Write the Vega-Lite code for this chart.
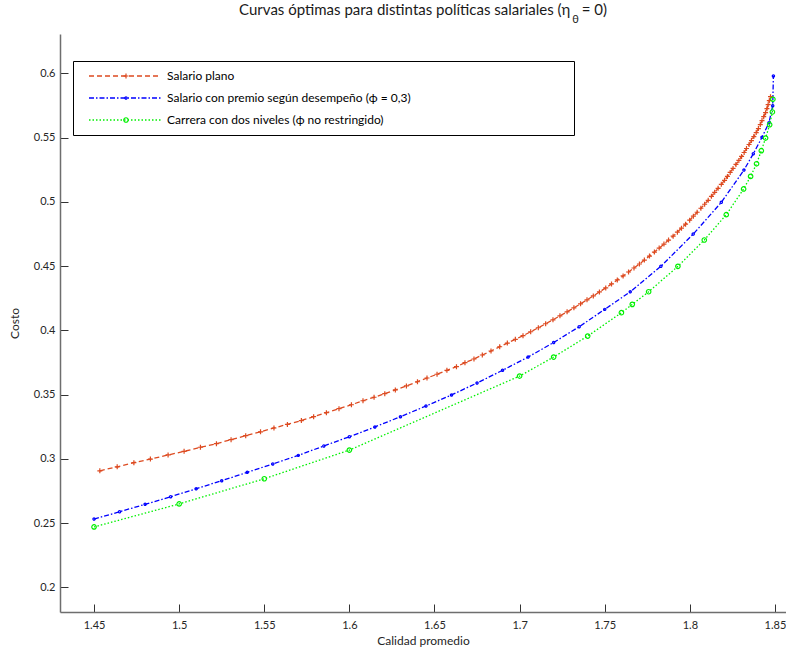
{
  "$schema": "https://vega.github.io/schema/vega-lite/v6.json",
  "width": 726,
  "height": 578,
  "autosize": {"type": "none"},
  "padding": {"left": 60, "top": 34, "right": 0, "bottom": 39},
  "background": "white",
  "title": {
    "text": "Curvas óptimas para distintas políticas salariales (η\u2002 = 0)",
    "subtitle": "\u2800\u2003\u2003\u2003\u2003\u2003\u2003\u2003\u2003\u2003\u2003\u2003\u2003\u2003\u2003\u2003\u2003\u2003\u2003\u2003\u2003\u2003\u2003\u2003\u2003\u2003\u2003\u2003\u2003\u2003\u2003\u2003\u2003\u2003\u2003\u2003\u2003θ",
    "frame": "group",
    "anchor": "middle",
    "font": "Lato",
    "fontSize": 15,
    "fontWeight": "normal",
    "color": "#1a1a1a",
    "subtitleFont": "Lato",
    "subtitleFontSize": 11,
    "subtitleColor": "#1a1a1a",
    "subtitlePadding": -4,
    "offset": 9
  },
  "config": {
    "view": {"stroke": null},
    "axis": {
      "labelFont": "Lato",
      "labelFontSize": 11,
      "labelColor": "#262626",
      "titleFont": "Lato",
      "titleFontSize": 12,
      "titleFontWeight": "normal",
      "titleColor": "#262626",
      "grid": false,
      "domainColor": "#6e6e6e",
      "domainWidth": 1.5,
      "tickColor": "#333333",
      "tickWidth": 1,
      "tickSize": -8,
      "labelFlush": false,
      "labelOverlap": false
    }
  },
  "data": {
    "values": [
      {"serie": "Salario plano", "x": 1.4534, "y": 0.2907},
      {"serie": "Salario plano", "x": 1.4636, "y": 0.2938},
      {"serie": "Salario plano", "x": 1.4734, "y": 0.2970},
      {"serie": "Salario plano", "x": 1.4831, "y": 0.2998},
      {"serie": "Salario plano", "x": 1.4935, "y": 0.3030},
      {"serie": "Salario plano", "x": 1.5029, "y": 0.3058},
      {"serie": "Salario plano", "x": 1.5125, "y": 0.3090},
      {"serie": "Salario plano", "x": 1.5219, "y": 0.3118},
      {"serie": "Salario plano", "x": 1.5305, "y": 0.3149},
      {"serie": "Salario plano", "x": 1.5391, "y": 0.3180},
      {"serie": "Salario plano", "x": 1.5478, "y": 0.3210},
      {"serie": "Salario plano", "x": 1.5557, "y": 0.3240},
      {"serie": "Salario plano", "x": 1.5636, "y": 0.3268},
      {"serie": "Salario plano", "x": 1.5718, "y": 0.3298},
      {"serie": "Salario plano", "x": 1.5790, "y": 0.3328},
      {"serie": "Salario plano", "x": 1.5865, "y": 0.3359},
      {"serie": "Salario plano", "x": 1.5939, "y": 0.3390},
      {"serie": "Salario plano", "x": 1.6012, "y": 0.3421},
      {"serie": "Salario plano", "x": 1.6080, "y": 0.3452},
      {"serie": "Salario plano", "x": 1.6145, "y": 0.3479},
      {"serie": "Salario plano", "x": 1.6208, "y": 0.3507},
      {"serie": "Salario plano", "x": 1.6270, "y": 0.3536},
      {"serie": "Salario plano", "x": 1.6335, "y": 0.3567},
      {"serie": "Salario plano", "x": 1.6400, "y": 0.3600},
      {"serie": "Salario plano", "x": 1.6456, "y": 0.3629},
      {"serie": "Salario plano", "x": 1.6515, "y": 0.3658},
      {"serie": "Salario plano", "x": 1.6573, "y": 0.3689},
      {"serie": "Salario plano", "x": 1.6629, "y": 0.3717},
      {"serie": "Salario plano", "x": 1.6679, "y": 0.3748},
      {"serie": "Salario plano", "x": 1.6732, "y": 0.3777},
      {"serie": "Salario plano", "x": 1.6781, "y": 0.3808},
      {"serie": "Salario plano", "x": 1.6832, "y": 0.3839},
      {"serie": "Salario plano", "x": 1.6883, "y": 0.3872},
      {"serie": "Salario plano", "x": 1.6928, "y": 0.3901},
      {"serie": "Salario plano", "x": 1.6975, "y": 0.3930},
      {"serie": "Salario plano", "x": 1.7020, "y": 0.3958},
      {"serie": "Salario plano", "x": 1.7065, "y": 0.3989},
      {"serie": "Salario plano", "x": 1.7110, "y": 0.4020},
      {"serie": "Salario plano", "x": 1.7153, "y": 0.4051},
      {"serie": "Salario plano", "x": 1.7196, "y": 0.4082},
      {"serie": "Salario plano", "x": 1.7237, "y": 0.4113},
      {"serie": "Salario plano", "x": 1.7279, "y": 0.4144},
      {"serie": "Salario plano", "x": 1.7319, "y": 0.4175},
      {"serie": "Salario plano", "x": 1.7358, "y": 0.4206},
      {"serie": "Salario plano", "x": 1.7396, "y": 0.4237},
      {"serie": "Salario plano", "x": 1.7433, "y": 0.4268},
      {"serie": "Salario plano", "x": 1.7469, "y": 0.4299},
      {"serie": "Salario plano", "x": 1.7506, "y": 0.4330},
      {"serie": "Salario plano", "x": 1.7540, "y": 0.4361},
      {"serie": "Salario plano", "x": 1.7574, "y": 0.4392},
      {"serie": "Salario plano", "x": 1.7608, "y": 0.4423},
      {"serie": "Salario plano", "x": 1.7640, "y": 0.4454},
      {"serie": "Salario plano", "x": 1.7672, "y": 0.4485},
      {"serie": "Salario plano", "x": 1.7704, "y": 0.4516},
      {"serie": "Salario plano", "x": 1.7733, "y": 0.4547},
      {"serie": "Salario plano", "x": 1.7763, "y": 0.4578},
      {"serie": "Salario plano", "x": 1.7792, "y": 0.4609},
      {"serie": "Salario plano", "x": 1.7820, "y": 0.4640},
      {"serie": "Salario plano", "x": 1.7848, "y": 0.4671},
      {"serie": "Salario plano", "x": 1.7875, "y": 0.4702},
      {"serie": "Salario plano", "x": 1.7902, "y": 0.4733},
      {"serie": "Salario plano", "x": 1.7927, "y": 0.4764},
      {"serie": "Salario plano", "x": 1.7951, "y": 0.4795},
      {"serie": "Salario plano", "x": 1.7975, "y": 0.4826},
      {"serie": "Salario plano", "x": 1.7999, "y": 0.4857},
      {"serie": "Salario plano", "x": 1.8021, "y": 0.4888},
      {"serie": "Salario plano", "x": 1.8043, "y": 0.4919},
      {"serie": "Salario plano", "x": 1.8065, "y": 0.4950},
      {"serie": "Salario plano", "x": 1.8087, "y": 0.4981},
      {"serie": "Salario plano", "x": 1.8108, "y": 0.5012},
      {"serie": "Salario plano", "x": 1.8127, "y": 0.5043},
      {"serie": "Salario plano", "x": 1.8146, "y": 0.5074},
      {"serie": "Salario plano", "x": 1.8166, "y": 0.5105},
      {"serie": "Salario plano", "x": 1.8185, "y": 0.5136},
      {"serie": "Salario plano", "x": 1.8204, "y": 0.5167},
      {"serie": "Salario plano", "x": 1.8221, "y": 0.5198},
      {"serie": "Salario plano", "x": 1.8237, "y": 0.5229},
      {"serie": "Salario plano", "x": 1.8254, "y": 0.5260},
      {"serie": "Salario plano", "x": 1.8271, "y": 0.5291},
      {"serie": "Salario plano", "x": 1.8288, "y": 0.5322},
      {"serie": "Salario plano", "x": 1.8304, "y": 0.5353},
      {"serie": "Salario plano", "x": 1.8319, "y": 0.5384},
      {"serie": "Salario plano", "x": 1.8333, "y": 0.5415},
      {"serie": "Salario plano", "x": 1.8348, "y": 0.5446},
      {"serie": "Salario plano", "x": 1.8362, "y": 0.5477},
      {"serie": "Salario plano", "x": 1.8376, "y": 0.5508},
      {"serie": "Salario plano", "x": 1.8390, "y": 0.5539},
      {"serie": "Salario plano", "x": 1.8403, "y": 0.5570},
      {"serie": "Salario plano", "x": 1.8414, "y": 0.5601},
      {"serie": "Salario plano", "x": 1.8424, "y": 0.5632},
      {"serie": "Salario plano", "x": 1.8434, "y": 0.5663},
      {"serie": "Salario plano", "x": 1.8445, "y": 0.5694},
      {"serie": "Salario plano", "x": 1.8453, "y": 0.5725},
      {"serie": "Salario plano", "x": 1.8460, "y": 0.5756},
      {"serie": "Salario plano", "x": 1.8467, "y": 0.5787},
      {"serie": "Salario plano", "x": 1.8474, "y": 0.5818},
      {"serie": "Salario con premio según desempeño (ϕ = 0,3)", "x": 1.450, "y": 0.2531},
      {"serie": "Salario con premio según desempeño (ϕ = 0,3)", "x": 1.465, "y": 0.2588},
      {"serie": "Salario con premio según desempeño (ϕ = 0,3)", "x": 1.480, "y": 0.2646},
      {"serie": "Salario con premio según desempeño (ϕ = 0,3)", "x": 1.495, "y": 0.2705},
      {"serie": "Salario con premio según desempeño (ϕ = 0,3)", "x": 1.510, "y": 0.2767},
      {"serie": "Salario con premio según desempeño (ϕ = 0,3)", "x": 1.525, "y": 0.2830},
      {"serie": "Salario con premio según desempeño (ϕ = 0,3)", "x": 1.540, "y": 0.2895},
      {"serie": "Salario con premio según desempeño (ϕ = 0,3)", "x": 1.555, "y": 0.2960},
      {"serie": "Salario con premio según desempeño (ϕ = 0,3)", "x": 1.570, "y": 0.3027},
      {"serie": "Salario con premio según desempeño (ϕ = 0,3)", "x": 1.585, "y": 0.3100},
      {"serie": "Salario con premio según desempeño (ϕ = 0,3)", "x": 1.600, "y": 0.3172},
      {"serie": "Salario con premio según desempeño (ϕ = 0,3)", "x": 1.615, "y": 0.3248},
      {"serie": "Salario con premio según desempeño (ϕ = 0,3)", "x": 1.630, "y": 0.3328},
      {"serie": "Salario con premio según desempeño (ϕ = 0,3)", "x": 1.645, "y": 0.3411},
      {"serie": "Salario con premio según desempeño (ϕ = 0,3)", "x": 1.660, "y": 0.3497},
      {"serie": "Salario con premio según desempeño (ϕ = 0,3)", "x": 1.675, "y": 0.3590},
      {"serie": "Salario con premio según desempeño (ϕ = 0,3)", "x": 1.690, "y": 0.3689},
      {"serie": "Salario con premio según desempeño (ϕ = 0,3)", "x": 1.705, "y": 0.3792},
      {"serie": "Salario con premio según desempeño (ϕ = 0,3)", "x": 1.720, "y": 0.3905},
      {"serie": "Salario con premio según desempeño (ϕ = 0,3)", "x": 1.735, "y": 0.4028},
      {"serie": "Salario con premio según desempeño (ϕ = 0,3)", "x": 1.750, "y": 0.4163},
      {"serie": "Salario con premio según desempeño (ϕ = 0,3)", "x": 1.765, "y": 0.4300},
      {"serie": "Salario con premio según desempeño (ϕ = 0,3)", "x": 1.783, "y": 0.4498},
      {"serie": "Salario con premio según desempeño (ϕ = 0,3)", "x": 1.802, "y": 0.4749},
      {"serie": "Salario con premio según desempeño (ϕ = 0,3)", "x": 1.8185, "y": 0.4996},
      {"serie": "Salario con premio según desempeño (ϕ = 0,3)", "x": 1.8318, "y": 0.5247},
      {"serie": "Salario con premio según desempeño (ϕ = 0,3)", "x": 1.8373, "y": 0.5374},
      {"serie": "Salario con premio según desempeño (ϕ = 0,3)", "x": 1.8424, "y": 0.5502},
      {"serie": "Salario con premio según desempeño (ϕ = 0,3)", "x": 1.8465, "y": 0.5616},
      {"serie": "Salario con premio según desempeño (ϕ = 0,3)", "x": 1.8487, "y": 0.5748},
      {"serie": "Salario con premio según desempeño (ϕ = 0,3)", "x": 1.8491, "y": 0.5979},
      {"serie": "Carrera con dos niveles (ϕ no restringido)", "x": 1.450, "y": 0.2470},
      {"serie": "Carrera con dos niveles (ϕ no restringido)", "x": 1.500, "y": 0.2649},
      {"serie": "Carrera con dos niveles (ϕ no restringido)", "x": 1.550, "y": 0.2845},
      {"serie": "Carrera con dos niveles (ϕ no restringido)", "x": 1.600, "y": 0.3068},
      {"serie": "Carrera con dos niveles (ϕ no restringido)", "x": 1.700, "y": 0.3644},
      {"serie": "Carrera con dos niveles (ϕ no restringido)", "x": 1.720, "y": 0.3792},
      {"serie": "Carrera con dos niveles (ϕ no restringido)", "x": 1.740, "y": 0.3955},
      {"serie": "Carrera con dos niveles (ϕ no restringido)", "x": 1.7598, "y": 0.4137},
      {"serie": "Carrera con dos niveles (ϕ no restringido)", "x": 1.7662, "y": 0.4202},
      {"serie": "Carrera con dos niveles (ϕ no restringido)", "x": 1.7758, "y": 0.4300},
      {"serie": "Carrera con dos niveles (ϕ no restringido)", "x": 1.7930, "y": 0.4498},
      {"serie": "Carrera con dos niveles (ϕ no restringido)", "x": 1.8085, "y": 0.4703},
      {"serie": "Carrera con dos niveles (ϕ no restringido)", "x": 1.8214, "y": 0.4900},
      {"serie": "Carrera con dos niveles (ϕ no restringido)", "x": 1.8316, "y": 0.5100},
      {"serie": "Carrera con dos niveles (ϕ no restringido)", "x": 1.8357, "y": 0.5198},
      {"serie": "Carrera con dos niveles (ϕ no restringido)", "x": 1.8392, "y": 0.5296},
      {"serie": "Carrera con dos niveles (ϕ no restringido)", "x": 1.8420, "y": 0.5398},
      {"serie": "Carrera con dos niveles (ϕ no restringido)", "x": 1.8445, "y": 0.5496},
      {"serie": "Carrera con dos niveles (ϕ no restringido)", "x": 1.8469, "y": 0.5600},
      {"serie": "Carrera con dos niveles (ϕ no restringido)", "x": 1.8485, "y": 0.5699},
      {"serie": "Carrera con dos niveles (ϕ no restringido)", "x": 1.8488, "y": 0.5798}
    ]
  },
  "encoding": {
    "x": {
      "field": "x",
      "type": "quantitative",
      "scale": {"domain": [1.43, 1.8565], "nice": false, "zero": false},
      "axis": {
        "values": [1.45, 1.5, 1.55, 1.6, 1.65, 1.7, 1.75, 1.8, 1.85],
        "format": "~g",
        "title": "Calidad promedio",
        "labelPadding": 15,
        "titlePadding": 5
      }
    },
    "y": {
      "field": "y",
      "type": "quantitative",
      "scale": {"domain": [0.1808, 0.6306], "nice": false, "zero": false},
      "axis": {
        "values": [0.2, 0.25, 0.3, 0.35, 0.4, 0.45, 0.5, 0.55, 0.6],
        "format": "~g",
        "title": "Costo",
        "labelPadding": 13,
        "titlePadding": 12
      }
    }
  },
  "layer": [
    {
      "mark": {"type": "line", "strokeWidth": 1.3, "clip": true},
      "encoding": {
        "stroke": {
          "field": "serie",
          "type": "nominal",
          "scale": {
            "domain": ["Salario plano", "Salario con premio según desempeño (ϕ = 0,3)", "Carrera con dos niveles (ϕ no restringido)"],
            "range": ["#dd4a20", "#0000ff", "#00f000"]
          },
          "legend": {
            "orient": "none", "legendX": 13, "legendY": 27, "title": null,
            "padding": 4, "clipHeight": 22, "rowPadding": 0,
            "symbolType": "stroke", "symbolSize": 5184, "symbolStrokeWidth": 1.3,
            "symbolOffset": 11, "labelOffset": 5,
            "labelFont": "Lato", "labelFontSize": 12, "labelColor": "#000000", "labelLimit": 0,
            "strokeColor": "#000000", "fillColor": "#ffffff",
            "labelExpr": "datum.label + '\u2003\u2003\u2003\u2003\u2003\u2003\u2003\u2003\u2003\u2003\u2003\u2003\u2003\u2003\u2003\u2003\u2002\u2800'",
            "zindex": 1
          }
        },
        "strokeDash": {
          "field": "serie",
          "type": "nominal",
          "scale": {
            "domain": ["Salario plano", "Salario con premio según desempeño (ϕ = 0,3)", "Carrera con dos niveles (ϕ no restringido)"],
            "range": [[5, 3], [5, 2, 1.5, 2], [1.5, 2]]
          },
          "legend": {
            "orient": "none", "legendX": 13, "legendY": 27, "title": null,
            "padding": 4, "clipHeight": 22, "rowPadding": 0,
            "symbolType": "stroke", "symbolSize": 5184, "symbolStrokeWidth": 1.3,
            "symbolOffset": 11, "labelOffset": 5,
            "labelFont": "Lato", "labelFontSize": 12, "labelColor": "#000000", "labelLimit": 0,
            "strokeColor": "#000000", "fillColor": "#ffffff",
            "labelExpr": "datum.label + '\u2003\u2003\u2003\u2003\u2003\u2003\u2003\u2003\u2003\u2003\u2003\u2003\u2003\u2003\u2003\u2003\u2002\u2800'",
            "zindex": 1
          }
        }
      }
    },
    {
      "transform": [{"calculate": "'m:' + datum.serie", "as": "marker"}],
      "mark": {"type": "point", "filled": false, "strokeWidth": 1.2, "opacity": 1, "size": 25, "clip": true},
      "encoding": {
        "color": {
          "field": "marker",
          "type": "nominal",
          "scale": {
            "domain": ["m:Salario plano", "m:Salario con premio según desempeño (ϕ = 0,3)", "m:Carrera con dos niveles (ϕ no restringido)"],
            "range": ["#dd4a20", "#0000ff", "#00f000"]
          },
          "legend": {
            "orient": "none", "legendX": 13, "legendY": 27, "title": null,
            "padding": 4, "clipHeight": 22, "rowPadding": 0,
            "symbolOffset": 43, "symbolSize": 25, "symbolStrokeWidth": 1.2,
            "labelExpr": "''", "labelFontSize": 12,
            "strokeColor": null, "fillColor": null, "zindex": 2
          }
        },
        "shape": {
          "field": "marker",
          "type": "nominal",
          "scale": {
            "domain": ["m:Salario plano", "m:Salario con premio según desempeño (ϕ = 0,3)", "m:Carrera con dos niveles (ϕ no restringido)"],
            "range": [
              "M-1,0H1M0,-1V1",
              "M-0.45,0A0.45,0.45 0 1,0 0.45,0A0.45,0.45 0 1,0 -0.45,0Z",
              "M-0.9,0A0.9,0.9 0 1,0 0.9,0A0.9,0.9 0 1,0 -0.9,0Z"
            ]
          },
          "legend": {
            "orient": "none", "legendX": 13, "legendY": 27, "title": null,
            "padding": 4, "clipHeight": 22, "rowPadding": 0,
            "symbolOffset": 43, "symbolSize": 25, "symbolStrokeWidth": 1.2,
            "labelExpr": "''", "labelFontSize": 12,
            "strokeColor": null, "fillColor": null, "zindex": 2
          }
        }
      }
    }
  ]
}
